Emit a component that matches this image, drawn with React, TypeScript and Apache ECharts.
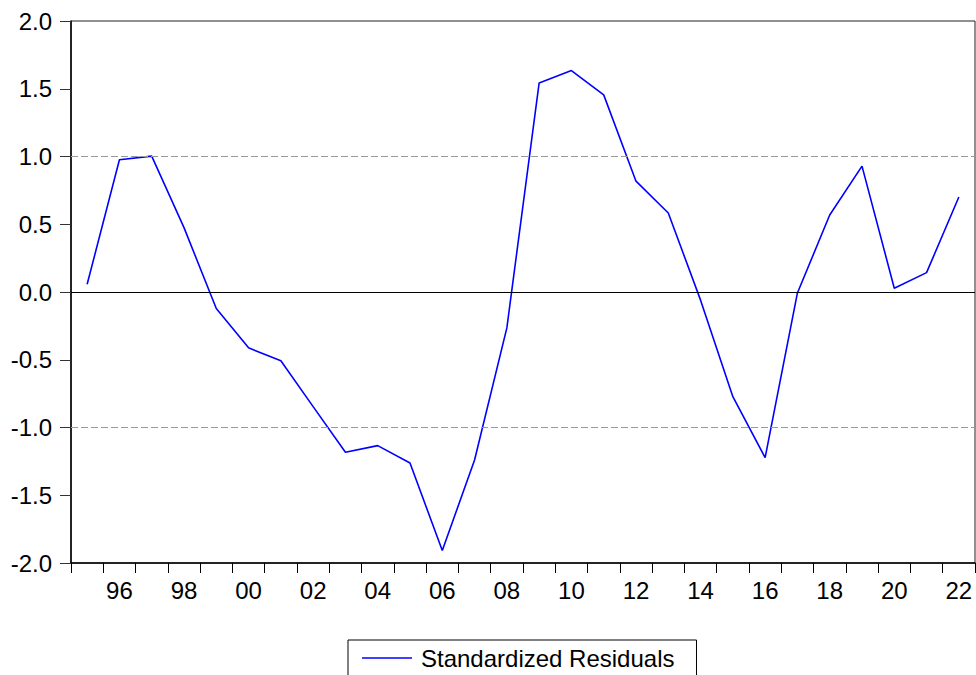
import React, { useEffect, useRef } from "react";
import * as echarts from "echarts";

const years: string[] = [
  "1995", "1996", "1997", "1998", "1999", "2000", "2001", "2002", "2003", "2004",
  "2005", "2006", "2007", "2008", "2009", "2010", "2011", "2012", "2013", "2014",
  "2015", "2016", "2017", "2018", "2019", "2020", "2021", "2022",
];

const residuals: number[] = [
  0.057, 0.976, 1.003, 0.475, -0.122, -0.412, -0.508, -0.846, -1.183, -1.134,
  -1.262, -1.908, -1.24, -0.265, 1.543, 1.634, 1.455, 0.818, 0.583, -0.06,
  -0.773, -1.223, -0.007, 0.568, 0.929, 0.028, 0.143, 0.701,
];

const seriesName = "Standardized Residuals";
const refLines: number[] = [1, -1];

const FONT = "'Liberation Sans', Arial, Helvetica, sans-serif";

export default function App() {
  const ref = useRef<HTMLDivElement>(null);

  useEffect(() => {
    if (!ref.current) return;
    const chart = echarts.init(ref.current, undefined, { renderer: "svg" });
    chart.setOption({
      animation: false,
      backgroundColor: "#ffffff",
      textStyle: { fontFamily: FONT },
      grid: {
        left: 71,
        right: 1,
        top: 21,
        bottom: 112,
        show: true,
        borderColor: "#222",
        borderWidth: 1,
        backgroundColor: "transparent",
      },
      legend: {
        show: true,
        left: 348,
        top: 640,
        padding: [6, 22, 12, 14],
        borderColor: "#000",
        borderWidth: 1,
        itemWidth: 50,
        itemHeight: 14,
        selectedMode: false,
        textStyle: {
          fontFamily: FONT,
          fontSize: 24,
          color: "#000",
          padding: [0, 0, 0, 4],
        },
        data: [{ name: seriesName, icon: "path://M0,0 L50,0 L50,1.5 L0,1.5 Z" }],
      },
      xAxis: {
        type: "category",
        data: years,
        boundaryGap: true,
        axisLine: { show: true, onZero: false, lineStyle: { color: "#000", width: 1.5 } },
        axisTick: {
          show: true,
          interval: 0,
          alignWithLabel: false,
          length: 10,
          lineStyle: { color: "#000", width: 1 },
        },
        axisLabel: {
          interval: (i: number) => i % 2 === 1,
          formatter: (v: string) => v.slice(2),
          fontSize: 24,
          color: "#000",
          fontFamily: FONT,
          margin: 15,
        },
        splitLine: { show: false },
      },
      yAxis: {
        type: "value",
        min: -2,
        max: 2,
        interval: 0.5,
        axisLine: { show: true, lineStyle: { color: "#000", width: 1.5 } },
        axisTick: { show: true, length: 11, lineStyle: { color: "#333", width: 1 } },
        axisLabel: {
          formatter: (v: number) => v.toFixed(1),
          fontSize: 24,
          color: "#000",
          fontFamily: FONT,
          margin: 19,
        },
        splitLine: { show: false },
      },
      series: [
        {
          name: seriesName,
          type: "line",
          data: residuals,
          showSymbol: false,
          symbol: "none",
          lineStyle: { color: "#0000ff", width: 1.6 },
          itemStyle: { color: "#0000ff" },
          markLine: {
            silent: true,
            symbol: "none",
            label: { show: false },
            animation: false,
            data: [
              { yAxis: 0, lineStyle: { color: "#000", type: "solid", width: 1 } },
              ...refLines.map((v) => ({
                yAxis: v,
                lineStyle: { color: "#999", type: [7, 3], width: 1 },
              })),
            ],
          },
          z: 3,
        },
      ],
    });
    return () => chart.dispose();
  }, []);

  return (
    <div
      ref={ref}
      style={{ position: "fixed", left: 0, top: 0, width: 976, height: 675, background: "#fff" }}
    />
  );
}
